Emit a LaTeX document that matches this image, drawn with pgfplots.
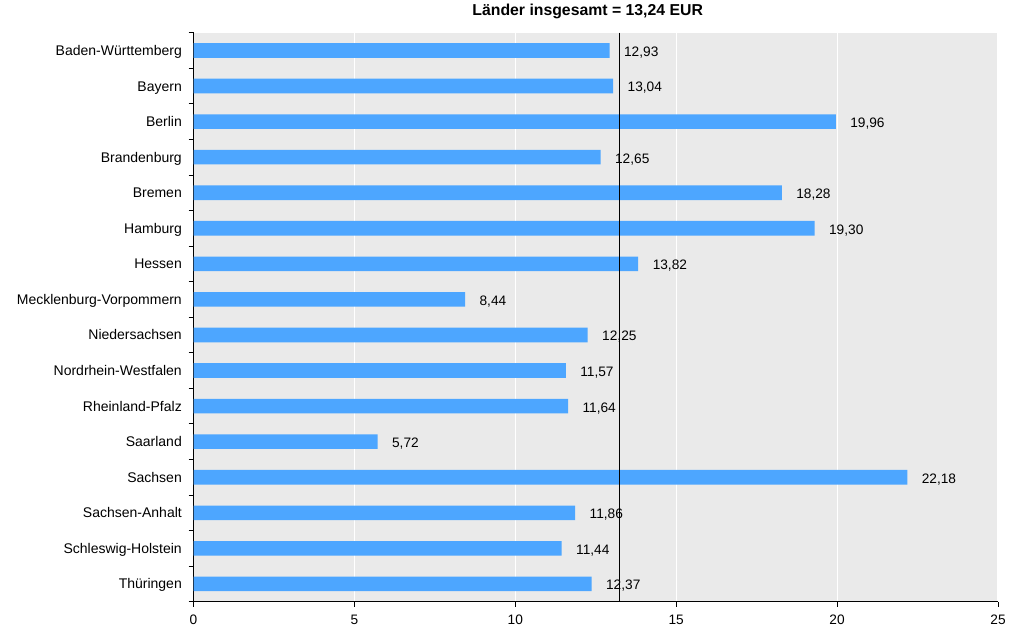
\documentclass[border=0pt]{standalone}
\usepackage{pgfplots}
\pgfplotsset{compat=1.18}
\usepackage{fontspec}
\setmainfont{Liberation Sans}
\definecolor{bg}{HTML}{EAEAEA}
\definecolor{barblue}{HTML}{4DA6FF}
\begin{document}
\begin{tikzpicture}
\useasboundingbox (0,0) rectangle (1017bp,626bp);
\begin{axis}[
  at={(193.5bp,24.3bp)}, anchor=south west,
  scale only axis, width=804.5bp, height=569bp,
  xmin=0, xmax=25, ymin=-0.5, ymax=15.5,
  y dir=reverse,
  axis background/.style={fill=bg},
  axis x line*=bottom, axis y line*=left,
  axis line style={black, line width=0.8pt, -},
  xtick={0,5,...,25},
  minor xtick={0,5,...,25},
  ytick={0,...,15},
  yticklabels={Baden-Württemberg,Bayern,Berlin,Brandenburg,Bremen,Hamburg,Hessen,Mecklenburg-Vorpommern,Niedersachsen,Nordrhein-Westfalen,Rheinland-Pfalz,Saarland,Sachsen,Sachsen-Anhalt,Schleswig-Holstein,Thüringen},
  minor ytick={-0.5,0.5,...,15.5},
  tick align=outside,
  major tick length=0pt, minor tick length=5bp,
  tick style={black, line width=0.8pt},
  xmajorgrids, grid style={white, line width=1.2pt},
  minor grid style={draw=none},
  /pgf/number format/assume math mode=true,
  ticklabel style={font=\fontsize{13.7bp}{15bp}\selectfont},
  yticklabel style={font=\fontsize{14bp}{15bp}\selectfont, anchor=base east, inner sep=0pt, xshift=-11.5bp, yshift=-5bp},
  xticklabel style={anchor=north, inner sep=0pt, yshift=-13bp},
  title={\textbf{Länder insgesamt = 13,24 EUR}},
  title style={at={(0.49,1)}, anchor=base, yshift=11bp, inner sep=0pt, font=\fontsize{15.8bp}{17bp}\selectfont},
  clip=false,
]
\addplot[xbar, bar width=14.6bp, bar shift=0pt, fill=barblue, draw=none,
  nodes near coords, point meta=x,
  every node near coord/.append style={anchor=west, xshift=11bp, yshift=-2bp, black, font=\fontsize{13.7bp}{15bp}\selectfont,
    /pgf/number format/.cd, fixed, fixed zerofill, precision=2, use comma, assume math mode=true}]
 coordinates {
(12.93,0) (13.04,1) (19.96,2) (12.65,3) (18.28,4) (19.30,5) (13.82,6) (8.44,7)
(12.25,8) (11.57,9) (11.64,10) (5.72,11) (22.18,12) (11.86,13) (11.44,14) (12.37,15)
};
\addplot[sharp plot, black, line width=0.8pt, forget plot, mark=none] coordinates {(13.24,-0.5) (13.24,15.5)};
\end{axis}
\end{tikzpicture}
\end{document}
